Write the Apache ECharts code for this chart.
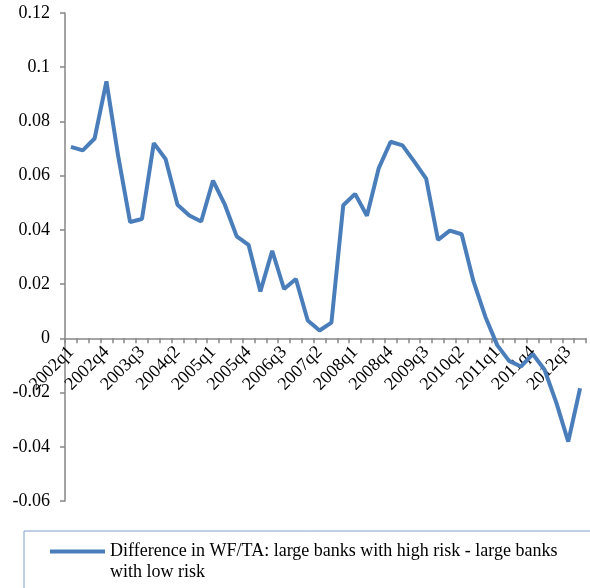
<!DOCTYPE html>
<html>
<head>
<meta charset="utf-8">
<script src="https://cdn.jsdelivr.net/npm/echarts@6/dist/echarts.min.js"></script>
<style>
  html, body { margin: 0; padding: 0; background: #ffffff; }
  #chart { width: 590px; height: 588px; }
</style>
</head>
<body>
<div id="chart"></div>
<script>
// Quarters 2002q1 .. 2012q4
const years = [2002, 2003, 2004, 2005, 2006, 2007, 2008, 2009, 2010, 2011, 2012];
const quarters = [];
years.forEach(y => { for (let q = 1; q <= 4; q++) quarters.push(y + 'q' + q); });

// Difference in WF/TA: large banks with high risk - large banks with low risk
const wfDiff = [
  0.0706, 0.0693, 0.0737, 0.0948,
  0.0670, 0.0429, 0.0440, 0.0720,
  0.0661, 0.0493, 0.0453, 0.0431,
  0.0582, 0.0493, 0.0376, 0.0345,
  0.0173, 0.0323, 0.0182, 0.0219,
  0.0066, 0.0029, 0.0058, 0.0491,
  0.0533, 0.0452, 0.0628, 0.0725,
  0.0712, 0.0652, 0.0589, 0.0363,
  0.0397, 0.0384, 0.0210, 0.0080,
  -0.0025, -0.0083, -0.0104, -0.0058,
  -0.0116, -0.0238, -0.0381, -0.0184
];

const yTicks = { min: -0.06, max: 0.12, step: 0.02 };
const seriesName = 'Difference in WF/TA: large banks with high risk - large banks\nwith low risk';

const font = 'Liberation Serif, Times New Roman, serif';
const axisGray = '#868686';
const lineBlue = '#4a7ebb';

const W = 590, H = 588;
const grid = { left: 65, right: 4, top: 13, bottom: 87 };
const plotH = H - grid.top - grid.bottom;
// the category axis sits on the zero line
const zeroOffset = -plotH * (0 - yTicks.min) / (yTicks.max - yTicks.min);

const chart = echarts.init(document.getElementById('chart'), null, { renderer: 'canvas' });
chart.setOption({
  backgroundColor: '#ffffff',
  animation: false,
  grid: Object.assign({ containLabel: false }, grid),
  graphic: [{
    type: 'rect',
    shape: { x: 24, y: 531, width: 600, height: 80 },
    style: { fill: 'none', stroke: '#7f9fc8', lineWidth: 1 },
    silent: true
  }],
  legend: {
    left: 45,
    top: 536,
    // bar at the top of the icon box so it lines up with the first text line
    icon: 'path://M0,0H55V4H0Z M0,24.9H0.1V25H0Z',
    itemWidth: 55,
    itemHeight: 25,
    itemGap: 5,
    textStyle: {
      fontFamily: font,
      fontSize: 18,
      color: '#000000',
      lineHeight: 21
    },
    data: [seriesName]
  },
  xAxis: {
    type: 'category',
    data: quarters,
    boundaryGap: true,
    offset: zeroOffset,
    axisLine: { onZero: false, lineStyle: { color: axisGray, width: 1.5 } },
    axisTick: { show: true, interval: 0, length: 5, lineStyle: { color: axisGray, width: 1.5 } },
    axisLabel: {
      interval: 2,
      rotate: 45,
      margin: 11,
      fontFamily: font,
      fontSize: 18,
      color: '#000000'
    },
    splitLine: { show: false }
  },
  yAxis: {
    type: 'value',
    min: yTicks.min,
    max: yTicks.max,
    interval: yTicks.step,
    axisLine: { show: true, lineStyle: { color: axisGray, width: 1.5 } },
    axisTick: { show: true, length: 5, lineStyle: { color: axisGray, width: 1.5 } },
    axisLabel: {
      margin: 15,
      fontFamily: font,
      fontSize: 18,
      color: '#000000',
      formatter: v => String(parseFloat(v.toFixed(2)))
    },
    splitLine: { show: false }
  },
  series: [{
    name: seriesName,
    type: 'line',
    data: wfDiff,
    symbol: 'none',
    lineStyle: { color: lineBlue, width: 4 },
    itemStyle: { color: lineBlue }
  }]
});
</script>
</body>
</html>
